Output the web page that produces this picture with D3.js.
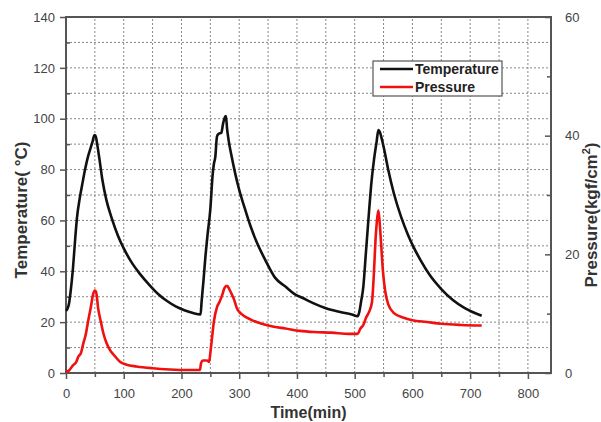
<!DOCTYPE html>
<html>
<head>
<meta charset="utf-8">
<script src="https://cdn.jsdelivr.net/npm/d3@7"></script>
<style>
  body { margin: 0; background: #fff; }
  svg { display: block; font-family: "Liberation Sans", Arial, sans-serif; }
</style>
</head>
<body>
<div id="chart"></div>
<script>
// time (min) / temperature (°C)
const tempTime = [0, 2, 5, 8, 12, 16, 19, 24, 28, 33, 38, 42, 46, 49, 51, 54, 58, 63, 70, 79, 90, 100, 115, 128, 145, 160, 175, 190, 205, 220, 233,
  235, 238, 241, 245, 250, 254, 256, 258.6, 261.5, 264, 269, 272, 275, 277, 279, 281.6, 287, 293, 300, 310, 320, 330, 345, 362, 380, 396, 410, 428, 450, 475, 495, 505,
  508, 511, 515, 519, 525, 529, 533.5, 538, 541, 543, 547, 551, 558, 568, 581, 592, 602, 615, 630, 650, 670, 690, 705, 720];
const tempValues = [24.5, 25, 27, 32, 41, 53, 61, 69, 74, 80, 85, 88, 91, 93.5, 93.5, 90, 84, 76, 68, 61, 54, 49, 43, 39, 34.5, 31, 28.3, 26.2, 24.7, 23.6, 23,
  28.5, 36, 44.5, 54, 64.5, 78, 82, 85, 93, 94, 94.5, 98, 100.5, 101, 96, 91.6, 85, 78.5, 72, 64.5, 57.5, 51.6, 44.5, 37.5, 34, 31, 29.5, 27.5, 25.5, 24, 23, 22.3,
  24, 28, 34, 46, 64, 75, 84, 91, 95.5, 95, 92, 88, 80, 70.5, 61, 54.5, 49.5, 44, 38.5, 33, 28.7, 25.6, 23.9, 22.5];

// time (min) / pressure (kgf/cm2)
const presTime = [0, 5, 12, 18, 21, 26, 30, 34, 38.6, 43, 47, 50, 52, 56, 60, 64.7, 70, 76, 85, 93.5, 105, 122, 150, 180, 210, 232,
  234, 237, 244, 248, 250, 253, 256, 261.5, 266, 270, 275, 279, 283, 287, 291, 293, 296, 300, 307, 320, 339, 360, 380, 405, 430, 460, 490, 505,
  510, 515, 520, 525, 530, 533, 536, 539, 541, 543, 546, 549, 553, 558, 568, 585, 600, 625, 650, 685, 720];
const presValues = [0.2, 0.4, 1.3, 1.9, 2.7, 3.4, 5.0, 6.4, 8.9, 11.1, 13.3, 13.9, 13.7, 10.7, 8.8, 6.7, 5.1, 3.9, 2.8, 1.9, 1.4, 1.1, 0.8, 0.6, 0.5, 0.5,
  1.7, 2.1, 2.1, 1.9, 3.4, 6.0, 8.6, 11.1, 12.0, 13.0, 14.4, 14.7, 14.1, 13.3, 12.4, 11.8, 10.9, 10.3, 9.7, 9.0, 8.3, 7.8, 7.5, 7.1, 6.9, 6.8, 6.6, 6.6,
  7.5, 8.1, 9.4, 10.3, 12.0, 16.3, 22.3, 26.1, 27.4, 25.7, 21.4, 17.1, 13.7, 11.6, 10.1, 9.3, 8.9, 8.6, 8.3, 8.1, 8.0];

const xTicks = [0, 100, 200, 300, 400, 500, 600, 700, 800];
const tempTicks = [0, 20, 40, 60, 80, 100, 120, 140];
const presTicks = [0, 20, 40, 60];
const seriesNames = ["Temperature", "Pressure"];
const seriesColors = ["#111", "#f01010"];

const width = 601, height = 422;
const margin = { top: 17, right: 50, bottom: 49, left: 66 };
const axisColor = "#555";
const textColor = "#444";

const svg = d3.select("#chart").append("svg")
  .attr("width", width)
  .attr("height", height);

const x = d3.scaleLinear().domain([0, 840]).range([margin.left, width - margin.right]);
const yT = d3.scaleLinear().domain([0, 140]).range([height - margin.bottom, margin.top]);
const yP = d3.scaleLinear().domain([0, 60]).range([height - margin.bottom, margin.top]);

// Grid (dashed)
const grid = svg.append("g").attr("class", "grid")
  .attr("stroke", "#888").attr("stroke-width", 1).attr("stroke-dasharray", "2,2");
grid.selectAll(".gx").data(d3.range(50, 840, 50)).enter().append("line")
  .attr("x1", d => x(d)).attr("x2", d => x(d))
  .attr("y1", yT(0)).attr("y2", yT(140));
grid.selectAll(".gy").data(d3.range(10, 140, 10)).enter().append("line")
  .attr("x1", x(0)).attr("x2", x(840))
  .attr("y1", d => yT(d)).attr("y2", d => yT(d));

// Axes
const bottom = svg.append("g")
  .attr("transform", `translate(0,${yT(0)})`)
  .call(d3.axisBottom(x).tickValues(xTicks).tickSize(6).tickPadding(10).tickFormat(d3.format("d")));
const bottomMinor = svg.append("g")
  .attr("transform", `translate(0,${yT(0)})`)
  .call(d3.axisBottom(x).tickValues(d3.range(50, 840, 100)).tickSize(4).tickFormat(""));

const left = svg.append("g")
  .attr("transform", `translate(${x(0)},0)`)
  .call(d3.axisLeft(yT).tickValues(tempTicks).tickSize(6).tickPadding(5));
const leftMinor = svg.append("g")
  .attr("transform", `translate(${x(0)},0)`)
  .call(d3.axisLeft(yT).tickValues(d3.range(10, 140, 20)).tickSize(-4).tickFormat(""));

const right = svg.append("g")
  .attr("transform", `translate(${x(840)},0)`)
  .call(d3.axisRight(yP).tickValues(presTicks).tickSize(-6).tickPadding(14));
const rightMinor = svg.append("g")
  .attr("transform", `translate(${x(840)},0)`)
  .call(d3.axisRight(yP).tickValues([10, 30, 50]).tickSize(-4).tickFormat(""));

[bottom, bottomMinor, left, leftMinor, right, rightMinor].forEach(g => {
  g.select(".domain").remove();
  g.selectAll(".tick line").attr("stroke", axisColor).attr("stroke-width", 1.5);
  g.selectAll(".tick text").attr("fill", textColor).style("font-size", "13px");
});

// Frame
svg.append("rect")
  .attr("x", x(0)).attr("y", yT(140))
  .attr("width", x(840) - x(0)).attr("height", yT(0) - yT(140))
  .attr("fill", "none").attr("stroke", axisColor).attr("stroke-width", 2);

// Lines
const tempData = tempTime.map((t, i) => [t, tempValues[i]]);
const presData = presTime.map((t, i) => [t, presValues[i]]);

svg.append("path").datum(tempData)
  .attr("fill", "none").attr("stroke", seriesColors[0]).attr("stroke-width", 2.6)
  .attr("stroke-linejoin", "round")
  .attr("d", d3.line().x(d => x(d[0])).y(d => yT(d[1])).curve(d3.curveMonotoneX));

svg.append("path").datum(presData)
  .attr("fill", "none").attr("stroke", seriesColors[1]).attr("stroke-width", 2.6)
  .attr("stroke-linejoin", "round")
  .attr("d", d3.line().x(d => x(d[0])).y(d => yP(d[1])).curve(d3.curveMonotoneX));

// Legend
const legend = svg.append("g").attr("transform", "translate(373,61)");
legend.append("rect")
  .attr("width", 129).attr("height", 35)
  .attr("fill", "#fff").attr("stroke", axisColor).attr("stroke-width", 1.2);
seriesNames.forEach((name, i) => {
  const row = legend.append("g").attr("transform", `translate(0,${8 + i * 18})`);
  row.append("line").attr("x1", 7).attr("x2", 40).attr("y1", 0).attr("y2", 0)
    .attr("stroke", seriesColors[i]).attr("stroke-width", 2.6);
  row.append("text").attr("x", 42).attr("y", 5)
    .attr("fill", "#222").style("font-size", "14px").style("font-weight", "bold")
    .text(name);
});

// Axis titles
svg.append("text")
  .attr("transform", "translate(27,210) rotate(-90)")
  .attr("text-anchor", "middle")
  .attr("fill", "#333").style("font-size", "17px").style("font-weight", "bold")
  .text("Temperature( °C)");

const pTitle = svg.append("text")
  .attr("transform", "translate(597,215) rotate(-90)")
  .attr("text-anchor", "middle")
  .attr("fill", "#333").style("font-size", "17px").style("font-weight", "bold");
pTitle.append("tspan").text("Pressure(kgf/cm");
pTitle.append("tspan").attr("dy", -7).style("font-size", "11px").text("2");
pTitle.append("tspan").attr("dy", 7).text(")");

svg.append("text")
  .attr("x", (x(0) + x(840)) / 2).attr("y", 418)
  .attr("text-anchor", "middle")
  .attr("fill", "#333").style("font-size", "16px").style("font-weight", "bold")
  .text("Time(min)");
</script>
</body>
</html>
